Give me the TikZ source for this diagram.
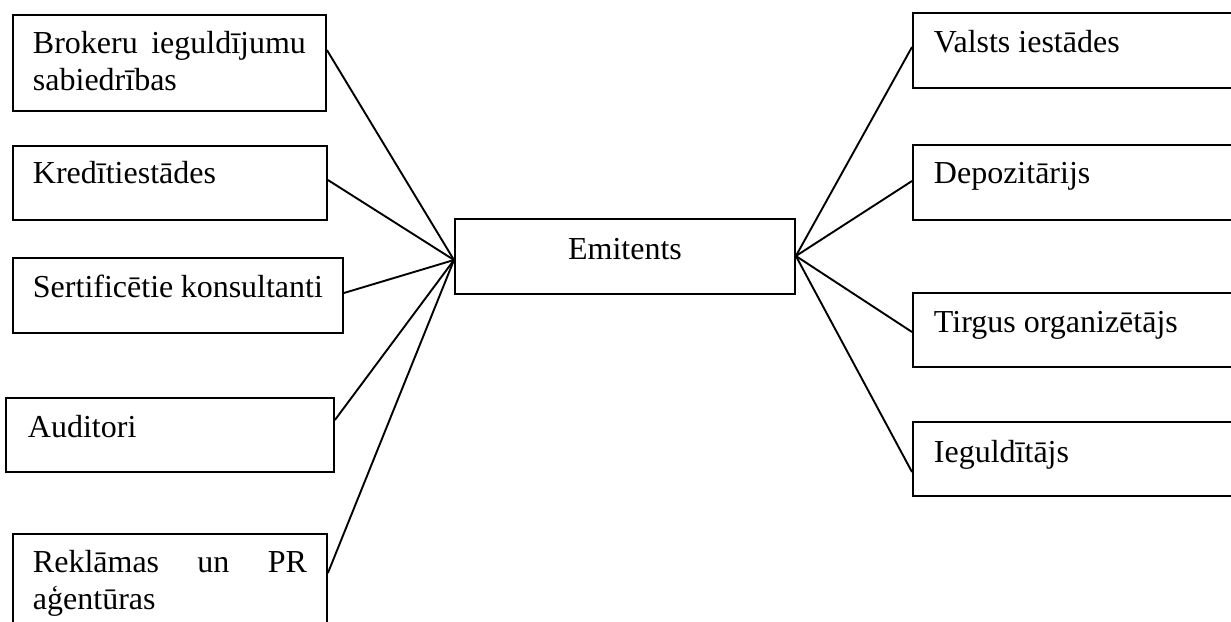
\documentclass[tikz,border=0pt]{standalone}
\usepackage{fontspec}
\setmainfont{Liberation Serif}
\newcommand\loosejust{\tolerance=10000 \hyphenpenalty=10000 \relax}
\begin{document}
\begin{tikzpicture}[x=1pt,y=-1pt,
  entbox/.style n args={3}{draw,line width=1.9pt,anchor=north west,inner ysep=0pt,inner xsep=20pt,
     font=\fontsize{32}{37}\selectfont\loosejust,
     text width=#1pt-40pt,text height=#2pt,text depth=#3pt,align=justify},
  conn/.style={line width=1.9pt}]
\clip (0,0) rectangle (1231,621);
\fill[white] (0,0) rectangle (1231,621);
% left boxes
\node[entbox={313}{39}{57}] (brok) at (12,14) {Brokeru ieguldījumu sabiedrības};
\node[entbox={314}{38}{36}] (kred) at (12,145) {Kredītiestādes};
\node[entbox={330}{40}{35}] (sert) at (12,257) {Sertificētie konsultanti};
\node[entbox={328}{40}{34},inner xsep=22pt,text width=284pt] (aud) at (5,397) {Auditori};
\node[entbox={314}{39}{61}] (rekl) at (12,533) {Reklāmas un PR aģentūras};
% centre
\node[entbox={340}{41}{34},align=center] (emit) at (454,218) {Emitents};
% right boxes
\node[entbox={340}{40}{35},inner xsep=21pt,text width=298pt] (vals) at (912,12) {Valsts iestādes};
\node[entbox={340}{39}{36},inner xsep=21pt,text width=298pt] (depo) at (912,144) {Depozitārijs};
\node[entbox={340}{40}{34},inner xsep=21pt,text width=298pt] (tirg) at (912,292) {Tirgus organizētājs};
\node[entbox={340}{41}{33},inner xsep=21pt,text width=298pt] (iegu) at (912,421) {Ieguldītājs};
% connectors
\coordinate (eL) at ([yshift=-42pt]emit.north west);
\coordinate (eR) at ([yshift=-38pt]emit.north east);
\draw[conn] ([yshift=-36pt]brok.north east) -- (eL);
\draw[conn] ([yshift=-35pt]kred.north east) -- (eL);
\draw[conn] ([yshift=-36pt]sert.north east) -- (eL);
\draw[conn] ([yshift=-23pt]aud.north east) -- (eL);
\draw[conn] ([yshift=-40pt]rekl.north east) -- (eL);
\draw[conn] ([yshift=-35pt]vals.north west) -- (eR);
\draw[conn] ([yshift=-37pt]depo.north west) -- (eR);
\draw[conn] ([yshift=-40pt]tirg.north west) -- (eR);
\draw[conn] ([yshift=-51pt]iegu.north west) -- (eR);
\end{tikzpicture}
\end{document}
